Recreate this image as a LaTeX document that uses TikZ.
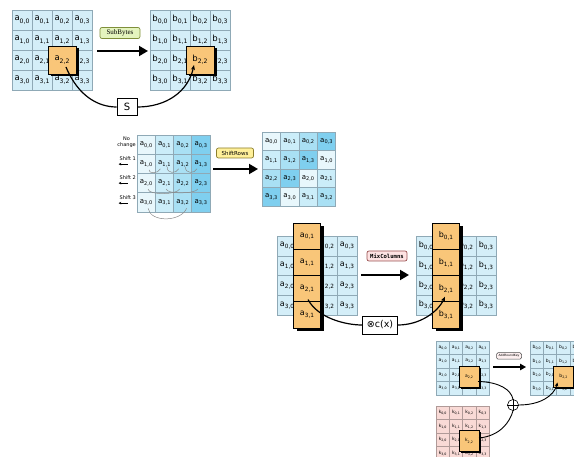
\documentclass[tikz,border=0pt]{standalone}
\usepackage{fontspec}
\setmainfont{DejaVu Sans}
\newfontfamily\serifl{Liberation Serif}
\newfontfamily\monol{DejaVu Sans Mono}
\usetikzlibrary{arrows.meta,shadows}
\definecolor{cellblue}{HTML}{D4EEF8}
\definecolor{cellline}{HTML}{8FA9B6}
\definecolor{orng}{HTML}{F9C679}
\definecolor{keypink}{HTML}{F9DAD6}
\definecolor{keyline}{HTML}{B09A98}
\definecolor{sbfill}{HTML}{E4F4BE}
\definecolor{sbline}{HTML}{7F8F3A}
\definecolor{srfill}{HTML}{FFF09A}
\definecolor{srline}{HTML}{8C7E2C}
\definecolor{mcfill}{HTML}{FDE3E3}
\definecolor{mcline}{HTML}{9A5050}
\definecolor{arfill}{HTML}{FDF0F0}
\definecolor{srcol0}{HTML}{E8F7FC}
\definecolor{srcol1}{HTML}{CBEDF9}
\definecolor{srcol2}{HTML}{A9E0F4}
\definecolor{srcol3}{HTML}{7FCFEF}
\definecolor{arcgray}{HTML}{8A8A8A}
\newcommand\ix[1]{\raisebox{-0.45ex}{\scalebox{0.72}{#1}}}
\tikzset{
  cell/.style={draw=cellline, line width=0.5pt, fill=cellblue, inner sep=0pt},
  keycell/.style={draw=keyline, line width=0.5pt, fill=keypink, inner sep=0pt},
  hl/.style={draw=black, line width=0.6pt, fill=orng, inner sep=0pt,
    drop shadow={shadow xshift=2.5pt, shadow yshift=-2.5pt, opacity=1, fill=black}},
  hlsmall/.style={draw=black, line width=0.5pt, fill=orng, inner sep=0pt,
    drop shadow={shadow xshift=1.8pt, shadow yshift=-1.8pt, opacity=1, fill=black}},
  colcell/.style={draw=black, line width=0.6pt, fill=orng, inner sep=0pt},
  opbox/.style={rounded corners=2pt, line width=0.7pt, inner sep=0pt},
  bigarrow/.style={line width=1.8pt, -{Triangle[length=9pt,width=10pt]}},
  smallarrow/.style={line width=1.2pt, -{Triangle[length=6pt,width=6.5pt]}},
  curve/.style={line width=1.2pt},
  curvearrow/.style={line width=1.2pt, -{Stealth[length=5pt,width=4pt]}},
  arcg/.style={draw=arcgray, line width=0.5pt},
  tinyarrow/.style={line width=0.6pt, -{Stealth[length=2.5pt,width=2.5pt]}},
}
\begin{document}
\begin{tikzpicture}[x=1pt,y=-1pt]
\useasboundingbox (0,0) rectangle (574,457);
\clip (0,0) rectangle (574,457);

% ---------------- SubBytes ----------------
\begin{scope}[font=\fontsize{8.5}{9}\selectfont]
\foreach \r in {0,...,3}{\foreach \c in {0,...,3}{
  \node[cell, minimum width=20, minimum height=20] (A\r\c) at ({22+20*\c},{20+20*\r}) {a\ix{\r,\c}};
  \node[cell, minimum width=20, minimum height=20] (B\r\c) at ({160+20*\c},{20+20*\r}) {b\ix{\r,\c}};
}}
\node[hl, minimum width=28, minimum height=28] (Ahl) at (A22) {a\ix{2,2}};
\node[hl, minimum width=28, minimum height=28] (Bhl) at (B22) {b\ix{2,2}};
\end{scope}
\node[opbox, draw=sbline, fill=sbfill, minimum width=40, minimum height=11,
  font=\serifl\fontsize{7}{8}\selectfont] (SB) at (120,33) {SubBytes};
\coordinate (sbS) at (97,51);
\coordinate (sbE) at (148,51);
\draw[bigarrow] (sbS) -- (sbE);
\node[draw, fill=white, line width=0.6pt, minimum width=20, minimum height=17, inner sep=0pt,
  font=\fontsize{10}{10}\selectfont] (S) at (127,107) {S};
\draw[curve] ([shift={(4,7)}]Ahl.center) .. controls (78,96) and (98,107) .. (S.west);
\draw[curvearrow] (S.east) .. controls (166,107) and (188,92) .. ([shift={(-6,5)}]Bhl.center);

% ---------------- ShiftRows ----------------
\begin{scope}[font=\fontsize{7}{8}\selectfont]
\foreach \r in {0,...,3}{\foreach \c in {0,...,3}{
  \node[cell, fill=srcol\c, minimum width=18.25, minimum height=19.25] (P\r\c)
     at ({146.1+18.25*\c},{144.6+19.25*\r}) {a\ix{\r,\c}};
  \pgfmathtruncatemacro\m{mod(\c+\r,4)}
  \node[cell, fill=srcol\m, minimum width=18.4, minimum height=18.5] (Q\r\c)
     at ({271.2+18.4*\c},{141.25+18.5*\r}) {a\ix{\r,\m}};
}}
\end{scope}
\begin{scope}[font=\fontsize{5}{5.5}\selectfont, inner sep=0pt]
\node[align=center, anchor=east] (nochg) at (136,142) {No\\change};
\node[anchor=east] (sh1) at (136,159) {Shift 1};
\node[anchor=east] (sh2) at (136,178) {Shift 2};
\node[anchor=east] (sh3) at (136,198) {Shift 3};
\end{scope}
\foreach \s in {sh1,sh2,sh3}{
  \draw[tinyarrow] ([shift={(0,3)}]\s.south) -- ([shift={(-9,3)}]\s.south);
}
% shift arcs
\draw[arcg] ([shift={(-4,5)}]P11.center) .. controls ([shift={(-6,10)}]P11.center) and ([shift={(2,10)}]P10.center) .. ([shift={(3,6)}]P10.center);
\draw[arcg] ([shift={(-4,5)}]P12.center) .. controls ([shift={(-6,10)}]P12.center) and ([shift={(2,10)}]P11.center) .. ([shift={(3,3)}]P11.center);
\draw[arcg] ([shift={(-4,5)}]P13.center) .. controls ([shift={(-6,10)}]P13.center) and ([shift={(2,10)}]P12.center) .. ([shift={(3,3)}]P12.center);
\draw[arcg] ([shift={(-3,6)}]P22.center) .. controls ([shift={(-6,12)}]P22.center) and ([shift={(2,12)}]P20.center) .. ([shift={(2,6)}]P20.center);
\draw[arcg] ([shift={(-3,6)}]P23.center) .. controls ([shift={(-6,11)}]P23.center) and ([shift={(2,11)}]P21.center) .. ([shift={(2,6)}]P21.center);
\draw[arcg] ([shift={(2,6)}]P30.center) .. controls ([shift={(4,20)}]P30.center) and ([shift={(-2,20)}]P32.center) .. ([shift={(4,6)}]P32.center);
\node[opbox, draw=srline, fill=srfill, minimum width=37, minimum height=10,
  font=\fontsize{5.5}{6}\selectfont] (SR) at (235,153) {ShiftRows};
\coordinate (srS) at (213,169);
\coordinate (srE) at (258,169);
\draw[bigarrow] (srS) -- (srE);

% ---------------- MixColumns ----------------
\begin{scope}[font=\fontsize{8}{9}\selectfont]
\foreach \r in {0,...,3}{\foreach \c in {0,...,3}{
  \node[cell, minimum width=20, minimum height=19.75] (M\r\c) at ({287+20*\c},{245.9+19.75*\r}) {a\ix{\r,\c}};
  \node[cell, minimum width=20, minimum height=19.75] (N\r\c) at ({426+20*\c},{245.9+19.75*\r}) {b\ix{\r,\c}};
}}
\node[fill=black, minimum width=27, minimum height=105, inner sep=0pt] (MshA) at (310,278.5) {};
\node[fill=black, minimum width=27, minimum height=105, inner sep=0pt] (MshB) at (449,278.5) {};
\foreach \r in {0,...,3}{
  \node[colcell, minimum width=27, minimum height=26.25] (MA\r) at (307,{236.1+26.25*\r}) {a\ix{\r,1}};
  \node[colcell, minimum width=27, minimum height=26.25] (MB\r) at (446,{236.1+26.25*\r}) {b\ix{\r,1}};
}
\end{scope}
\node[opbox, draw=mcline, fill=mcfill, minimum width=40, minimum height=10,
  font=\monol\bfseries\fontsize{5.6}{6}\selectfont] (MC) at (387,256) {MixColumns};
\coordinate (mcS) at (361,275);
\coordinate (mcE) at (409,275);
\draw[bigarrow] (mcS) -- (mcE);
\node[draw, fill=white, line width=0.6pt, minimum width=35, minimum height=18, inner sep=0pt,
  font=\fontsize{9.5}{10}\selectfont] (CX) at (380,325) {⊗c(x)};
\draw[curve] ([shift={(1,11)}]MA2.center) .. controls (318,318) and (345,325) .. (CX.west);
\draw[curvearrow] (CX.east) .. controls (420,325) and (438,312) .. ([shift={(-1,8)}]MB2.center);

% ---------------- AddRoundKey ----------------
\begin{scope}[font=\fontsize{4.5}{5}\selectfont]
\foreach \r in {0,...,3}{\foreach \c in {0,...,3}{
  \node[cell, minimum width=13.3, minimum height=13.5] (D\r\c) at ({442.65+13.3*\c},{347.75+13.5*\r}) {a\ix{\r,\c}};
  \node[keycell, minimum width=13.3, minimum height=13.5] (K\r\c) at ({442.65+13.3*\c},{412.75+13.5*\r}) {k\ix{\r,\c}};
  \node[cell, minimum width=13.3, minimum height=13.5] (F\r\c) at ({536.65+13.3*\c},{347.75+13.5*\r}) {b\ix{\r,\c}};
}}
\node[hlsmall, minimum width=20, minimum height=21] (Dhl) at (469,376.5) {a\ix{2,2}};
\node[hlsmall, minimum width=20, minimum height=21] (Khl) at (469,441) {k\ix{2,2}};
\node[hlsmall, minimum width=20, minimum height=21] (Fhl) at (563.5,376.5) {b\ix{2,2}};
\end{scope}
\node[opbox, rounded corners=1.5pt, draw=black!70, line width=0.5pt, fill=arfill, minimum width=25, minimum height=6.5,
  font=\fontsize{3}{3.5}\selectfont] (AR) at (509,356) {AddRoundKey};
\coordinate (arS) at (493,367);
\coordinate (arE) at (526,367);
\draw[smallarrow] (arS) -- (arE);
\node[draw, circle, fill=white, minimum size=11, inner sep=0pt, line width=0.6pt] (XOR) at (513,405) {};
\draw[line width=0.6pt] (XOR.north) -- (XOR.south) (XOR.west) -- (XOR.east);
\draw[line width=0.9pt] ([shift={(9,5)}]Dhl.center) .. controls (500,382) and (511,390) .. (XOR.north);
\draw[line width=0.9pt] ([shift={(10,-3)}]Khl.center) .. controls (500,436) and (510,422) .. (XOR.south);
\draw[line width=0.9pt, -{Stealth[length=4pt,width=3.5pt]}] (XOR.east) .. controls (540,405) and (554,396) .. ([shift={(-6,6)}]Fhl.center);
\end{tikzpicture}
\end{document}
